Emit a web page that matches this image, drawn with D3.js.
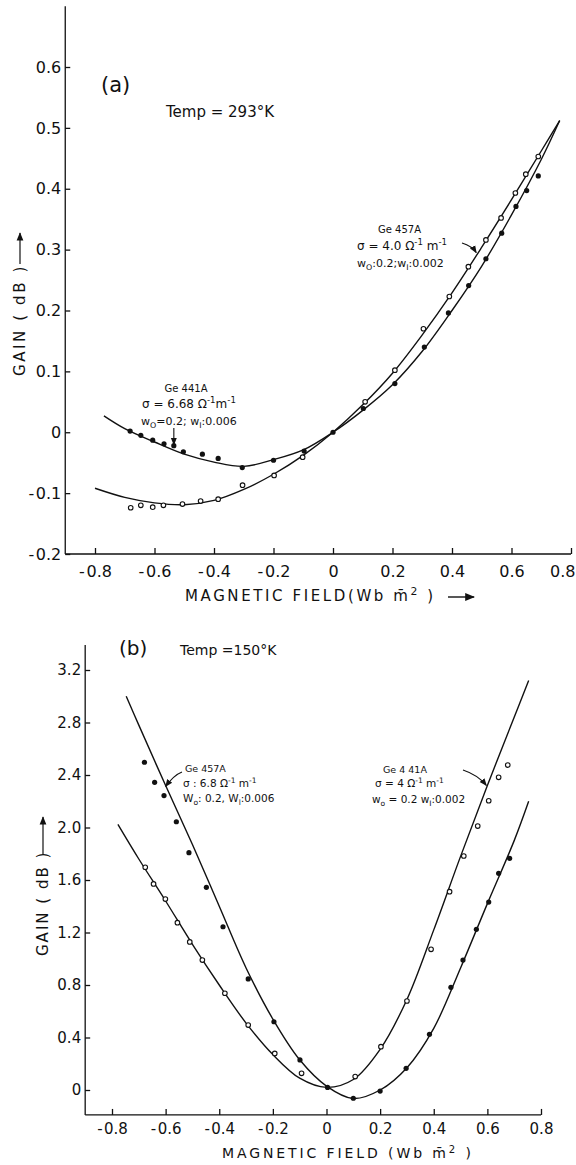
<!DOCTYPE html>
<html>
<head>
<meta charset="utf-8">
<script src="https://cdn.jsdelivr.net/npm/d3@7"></script>
<style>
body { margin: 0; background: #fff; }
svg text { font-family: "DejaVu Sans", sans-serif; fill: #111; }
</style>
</head>
<body>
<svg id="chart" width="576" height="1165"></svg>
<script>
// ---- panel (a) : Temp = 293 K ----
var a_xTicks = [-0.8, -0.6, -0.4, -0.2, 0, 0.2, 0.4, 0.6, 0.8]
var a_yTicks = [-0.2, -0.1, 0, 0.1, 0.2, 0.3, 0.4, 0.5, 0.6]

// [field, gain]
var a_filled = [[-0.682,0.002],[-0.646,-0.005],[-0.606,-0.013],[-0.568,-0.019],[-0.535,-0.022],
  [-0.503,-0.032],[-0.439,-0.036],[-0.386,-0.043],[-0.305,-0.058],[-0.200,-0.046],[-0.097,-0.031],
  [0,0],[0.102,0.039],[0.208,0.080],[0.307,0.140],[0.388,0.196],[0.456,0.241],[0.514,0.285],
  [0.567,0.327],[0.615,0.371],[0.651,0.397],[0.690,0.421]]
var a_open = [[-0.680,-0.124],[-0.646,-0.120],[-0.606,-0.123],[-0.570,-0.120],[-0.506,-0.118],
  [-0.445,-0.113],[-0.386,-0.110],[-0.304,-0.087],[-0.198,-0.071],[-0.102,-0.041],[0.108,0.050],
  [0.208,0.102],[0.304,0.170],[0.391,0.223],[0.455,0.272],[0.514,0.316],[0.565,0.352],
  [0.613,0.393],[0.648,0.424],[0.690,0.453]]
var a_fitFilled = [[-0.77,0.027],[-0.7,0.006],[-0.6,-0.016],[-0.5,-0.036],[-0.4,-0.049],[-0.3,-0.056],
  [-0.2,-0.045],[-0.1,-0.029],[0,0],[0.1,0.036],[0.2,0.078],[0.3,0.133],[0.4,0.200],[0.5,0.273],
  [0.6,0.357],[0.7,0.448],[0.762,0.512]]
var a_fitOpen = [[-0.80,-0.092],[-0.7,-0.107],[-0.6,-0.116],[-0.5,-0.119],[-0.4,-0.112],[-0.3,-0.094],
  [-0.2,-0.069],[-0.1,-0.038],[0,0],[0.1,0.045],[0.2,0.097],[0.3,0.160],[0.4,0.229],[0.5,0.304],
  [0.6,0.382],[0.7,0.462],[0.762,0.512]]

// ---- panel (b) : Temp = 150 K ----
var b_xTicks = [-0.8, -0.6, -0.4, -0.2, 0, 0.2, 0.4, 0.6, 0.8]
var b_yTicks = [0, 0.4, 0.8, 1.2, 1.6, 2.0, 2.4, 2.8, 3.2]

var b_filled = [[-0.679,2.497],[-0.641,2.344],[-0.606,2.243],[-0.560,2.044],[-0.513,1.808],
  [-0.448,1.544],[-0.386,1.244],[-0.292,0.846],[-0.196,0.520],[-0.099,0.229],[0.004,0.020],
  [0.100,-0.063],[0.200,-0.008],[0.297,0.165],[0.384,0.424],[0.464,0.782],[0.509,0.990],
  [0.559,1.224],[0.605,1.432],[0.642,1.651],[0.683,1.765]]
var b_open = [[-0.676,1.697],[-0.645,1.570],[-0.601,1.455],[-0.556,1.275],[-0.510,1.128],
  [-0.463,0.990],[-0.379,0.737],[-0.292,0.495],[-0.193,0.279],[-0.093,0.127],[0.107,0.102],
  [0.203,0.330],[0.300,0.678],[0.390,1.072],[0.459,1.511],[0.512,1.783],[0.564,2.011],
  [0.605,2.204],[0.642,2.382],[0.676,2.476]]
var b_fitFilled = [[-0.747,3.00],[-0.7,2.78],[-0.6,2.32],[-0.5,1.87],[-0.4,1.40],[-0.3,0.93],
  [-0.2,0.54],[-0.1,0.23],[0,0.03],[0.1,-0.065],[0.2,0.0],[0.3,0.17],[0.4,0.47],[0.5,0.93],
  [0.6,1.42],[0.7,1.90],[0.754,2.20]]
var b_fitOpen = [[-0.778,2.024],[-0.7,1.76],[-0.6,1.44],[-0.5,1.11],[-0.4,0.80],[-0.3,0.51],
  [-0.2,0.27],[-0.1,0.09],[0,0.02],[0.1,0.08],[0.2,0.31],[0.3,0.69],[0.4,1.22],[0.5,1.78],
  [0.6,2.32],[0.7,2.84],[0.754,3.12]]

var svg = d3.select('#chart')

svg.append('defs').append('marker')
    .attr('id', 'head')
    .attr('viewBox', '0 0 10 10')
    .attr('refX', 9).attr('refY', 5)
    .attr('markerWidth', 7).attr('markerHeight', 7)
    .attr('orient', 'auto')
  .append('path')
    .attr('d', 'M0,1 L10,5 L0,9 Z')
    .attr('fill', '#111')

function tickFmt(v) {
    if (v === 0) return '0'
    if (v < 0) return '-\u200a' + Math.abs(v).toFixed(1)
    return v.toFixed(1)
}

// text with super/subscript pieces: parts = [[str, 'sup'|'sub'|null], ...]
function rich(g, x, y, size, parts, anchor) {
    var t = g.append('text')
        .attr('x', x).attr('y', y)
        .attr('font-size', size)
        .attr('text-anchor', anchor || 'start')
    var shift = 0
    parts.forEach(function(p) {
        var target = p[1] == 'sup' ? -size * 0.38 : p[1] == 'sub' ? size * 0.3 : 0
        var s = t.append('tspan').text(p[0]).attr('dy', target - shift)
        if (p[1]) s.attr('font-size', size * 0.72)
        shift = target
    })
    return t
}

function panel(opt) {
    var g = svg.append('g')
    var x = opt.x, y = opt.y

    // axes lines
    g.append('line')
        .attr('x1', x(opt.xMin)).attr('x2', x(opt.xMax))
        .attr('y1', y(opt.yMin)).attr('y2', y(opt.yMin))
        .attr('stroke', '#111').attr('stroke-width', 1.3)
    g.append('line')
        .attr('x1', x(opt.xMin)).attr('x2', x(opt.xMin))
        .attr('y1', y(opt.yMin)).attr('y2', y(opt.yMax))
        .attr('stroke', '#111').attr('stroke-width', 1.3)

    var xAxis = g.append('g')
        .attr('transform', 'translate(0,' + y(opt.yMin) + ')')
        .call(d3.axisBottom(x).tickValues(opt.xTicks).tickFormat(tickFmt)
            .tickSizeInner(-6).tickSizeOuter(0).tickPadding(opt.xPad))
    var yAxis = g.append('g')
        .attr('transform', 'translate(' + x(opt.xMin) + ',0)')
        .call(d3.axisLeft(y).tickValues(opt.yTicks).tickFormat(tickFmt)
            .tickSizeInner(-5).tickSizeOuter(0).tickPadding(4))
    ;[xAxis, yAxis].forEach(function(ax) {
        ax.select('.domain').remove()
        ax.selectAll('line').attr('stroke', '#111').attr('stroke-width', 1.3)
        ax.selectAll('text').attr('font-size', opt.tickSize).attr('fill', '#111')
            .attr('font-family', '"DejaVu Sans", sans-serif')
    })
    // the last x label sits on the page edge: right-align it there
    if (opt.lastEnd) {
        xAxis.selectAll('.tick:last-of-type text')
            .attr('text-anchor', 'end').attr('x', opt.lastEnd)
    }

    var line = d3.line()
        .x(function(d) { return x(d[0]) })
        .y(function(d) { return y(d[1]) })
        .curve(d3.curveCatmullRom.alpha(0.5))

    ;[opt.fitFilled, opt.fitOpen].forEach(function(f) {
        g.append('path')
            .attr('d', line(f))
            .attr('fill', 'none')
            .attr('stroke', '#111')
            .attr('stroke-width', 1.4)
    })

    g.selectAll('.filled')
        .data(opt.filled)
        .enter().append('circle')
          .attr('cx', function(d) { return x(d[0]) })
          .attr('cy', function(d) { return y(d[1]) })
          .attr('r', 2.6)
          .attr('fill', '#111')

    g.selectAll('.open')
        .data(opt.open)
        .enter().append('circle')
          .attr('cx', function(d) { return x(d[0]) })
          .attr('cy', function(d) { return y(d[1]) })
          .attr('r', 2.3)
          .attr('fill', '#fff')
          .attr('stroke', '#111')
          .attr('stroke-width', 1.1)

    return g
}

// ---------- (a) ----------
var xA = d3.scaleLinear().domain([-0.8, 0.8]).range([95, 571])
var yA = d3.scaleLinear().domain([-0.2, 0.6]).range([554, 67])

var gA = panel({
    x: xA, y: yA, xMin: -0.9, xMax: 0.8, yMin: -0.2, yMax: 0.7,
    xTicks: a_xTicks, yTicks: a_yTicks, xPad: 12, tickSize: 16, lastEnd: 4,
    filled: a_filled, open: a_open, fitFilled: a_fitFilled, fitOpen: a_fitOpen
})

gA.append('text').attr('x', 101).attr('y', 92)
    .attr('font-family', '"DejaVu Serif", serif').attr('font-size', 21)
    .text('(a)')
gA.append('text').attr('x', 166).attr('y', 117).attr('font-size', 15)
    .text('Temp = 293°K')

var axLabA = rich(gA, 185, 601, 15, [['MAGNETIC FIELD(Wb  m\u0304', null], ['2', 'sup'], [' )', null]])
axLabA.attr('letter-spacing', 2.6)
gA.append('line').attr('x1', 448).attr('x2', 474).attr('y1', 597).attr('y2', 597)
    .attr('stroke', '#111').attr('stroke-width', 1.4).attr('marker-end', 'url(#head)')

gA.append('text')
    .attr('transform', 'translate(25,376) rotate(-90)')
    .attr('font-size', 15).attr('letter-spacing', 2.6)
    .text('GAIN ( dB )')
gA.append('line').attr('x1', 20).attr('x2', 20).attr('y1', 264).attr('y2', 233)
    .attr('stroke', '#111').attr('stroke-width', 1.2).attr('marker-end', 'url(#head)')

// annotation Ge 441A
rich(gA, 186, 392, 10, [['Ge  441', null], ['A', null]], 'middle')
rich(gA, 142, 408, 12, [['σ = 6.68 Ω', null], ['-1', 'sup'], ['m', null], ['-1', 'sup']])
rich(gA, 141, 425, 11, [['w', null], ['O', 'sub'], ['=0.2; w', null], ['I', 'sub'], [':0.006', null]])
gA.append('line')
    .attr('x1', xA(-0.535)).attr('x2', xA(-0.535))
    .attr('y1', 428).attr('y2', yA(-0.022) - 1)
    .attr('stroke', '#111').attr('stroke-width', 1.1).attr('marker-end', 'url(#head)')

// annotation Ge 457A
rich(gA, 378, 233, 10, [['Ge  457', null], ['A', null]])
rich(gA, 357, 250, 12, [['σ = 4.0 Ω', null], ['-1', 'sup'], [' m', null], ['-1', 'sup']])
rich(gA, 357, 267, 11, [['w', null], ['O', 'sub'], [':0.2;w', null], ['I', 'sub'], [':0.002', null]])
gA.append('path')
    .attr('d', 'M462,243 Q472,246 ' + (xA(0.485) - 1) + ',' + yA(0.295))
    .attr('fill', 'none').attr('stroke', '#111').attr('stroke-width', 1.1)
    .attr('marker-end', 'url(#head)')

// ---------- (b) ----------
var xB = d3.scaleLinear().domain([-0.8, 0.8]).range([112, 541])
var yB = d3.scaleLinear().domain([0, 3.2]).range([1090, 670])

var gB = panel({
    x: xB, y: yB, xMin: -0.9, xMax: 0.8, yMin: -0.19, yMax: 3.39,
    xTicks: b_xTicks, yTicks: b_yTicks, xPad: 8, tickSize: 15,
    filled: b_filled, open: b_open, fitFilled: b_fitFilled, fitOpen: b_fitOpen
})

gB.append('text').attr('x', 119).attr('y', 655)
    .attr('font-family', '"DejaVu Serif", serif').attr('font-size', 20)
    .text('(b)')
gB.append('text').attr('x', 180).attr('y', 655).attr('font-size', 14)
    .text('Temp =150°K')

var axLabB = rich(gB, 222, 1158, 14, [['MAGNETIC FIELD  (Wb  m\u0304', null], ['2', 'sup'], [' )', null]])
axLabB.attr('letter-spacing', 2.9)

gB.append('text')
    .attr('transform', 'translate(48,956) rotate(-90)')
    .attr('font-size', 15).attr('letter-spacing', 2)
    .text('GAIN ( dB )')
gB.append('line').attr('x1', 43).attr('x2', 43).attr('y1', 854).attr('y2', 817)
    .attr('stroke', '#111').attr('stroke-width', 1.2).attr('marker-end', 'url(#head)')

// annotation Ge 457A (left)
rich(gB, 185, 772, 9.5, [['Ge 457', null], ['A', null]])
rich(gB, 183, 787, 10.5, [['σ : 6.8 Ω', null], ['-1', 'sup'], [' m', null], ['-1', 'sup']])
rich(gB, 183, 802, 10.5, [['W', null], ['o', 'sub'], [': 0.2, W', null], ['l', 'sub'], [':0.006', null]])
gB.append('path')
    .attr('d', 'M182,772 Q174,775 ' + xB(-0.6) + ',' + (yB(2.32) + 1))
    .attr('fill', 'none').attr('stroke', '#111').attr('stroke-width', 1.1)
    .attr('marker-end', 'url(#head)')

// annotation Ge 441A (right)
rich(gB, 383, 773, 9.5, [['Ge 4 41', null], ['A', null]])
rich(gB, 375, 787, 10.5, [['σ = 4 Ω', null], ['-1', 'sup'], [' m', null], ['-1', 'sup']])
rich(gB, 372, 803, 10.5, [['w', null], ['o', 'sub'], [' = 0.2  w', null], ['I', 'sub'], [':0.002', null]])
gB.append('path')
    .attr('d', 'M463,770 Q478,775 ' + (xB(0.6) - 1) + ',' + yB(2.32))
    .attr('fill', 'none').attr('stroke', '#111').attr('stroke-width', 1.1)
    .attr('marker-end', 'url(#head)')
</script>
</body>
</html>
